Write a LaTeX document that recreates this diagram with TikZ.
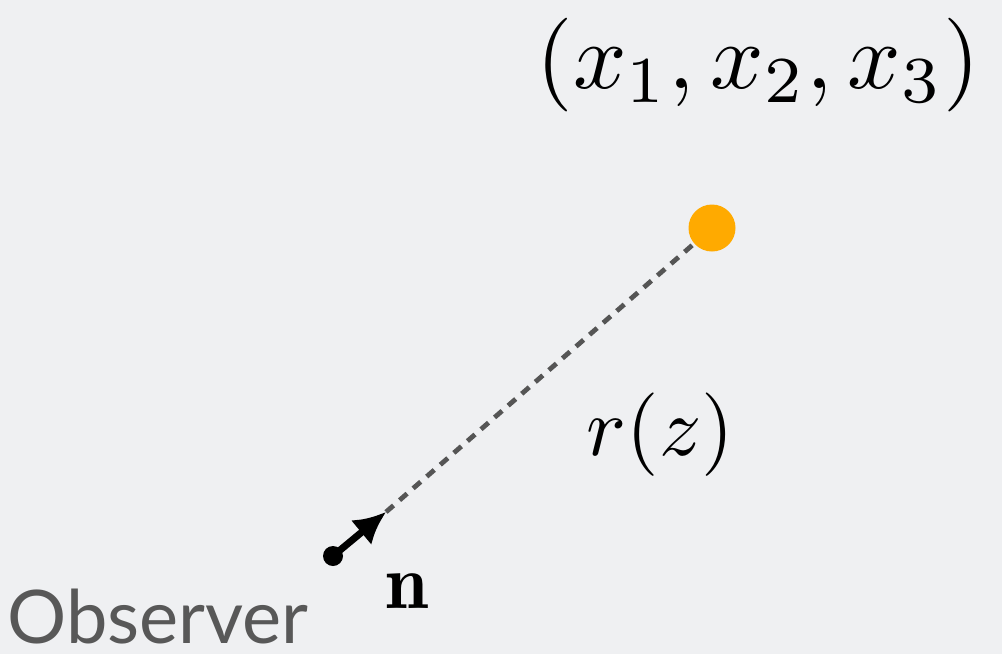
\documentclass[tikz,border=0pt]{standalone}
\usepackage{fontspec}
\usepackage{xcolor}
\usetikzlibrary{arrows.meta}
\newfontfamily\labelfont{Lato}
\definecolor{backgroundColor}{RGB}{239,240,242}
\definecolor{sourceColor}{RGB}{255,170,0}
\definecolor{lineColor}{RGB}{85,85,85}
\definecolor{observerTextColor}{RGB}{88,88,88}

\begin{document}
\begin{tikzpicture}[
        x=0.5pt, y=-0.5pt,
        mathlabel/.style={
                anchor=base west,
                inner sep=0pt,
                scale=4.3
            },
        sightline/.style={lineColor, line width=2.4pt, dash pattern=on 5pt off 4pt},
        normal/.style={-{Latex[length=16pt,width=16pt]}, line width=3.5pt, black}
    ]

    % ---- Background ----
    \fill[backgroundColor] (0,0) rectangle (1002,654);
    \useasboundingbox (0,0) rectangle (1002,654);

    % ---- Sizes (diameters in pt) ----
    \def\dSource{23.5pt}
    \def\dObserver{10pt}

    % ---- Source and observer ----
    \node[circle, fill=sourceColor, minimum size=\dSource, inner sep=0pt] (source) at (712,228) {};
    \node[circle, fill=black, minimum size=\dObserver, inner sep=0pt] (observer) at (333,556) {};
    \coordinate (ntip) at (386,512);

    % ---- Line of sight ----
    \draw[sightline] (ntip) -- (source);

    % ---- Direction n ----
    \draw[normal] (observer.center) -- (ntip);

    % ---- Labels ----
    \node[mathlabel, scale=1.09] (position) at (535,88) {$(x_1, x_2, x_3)$};
    \node[mathlabel, scale=0.97] (distance) at (585,455) {$r(z)$};
    \node[mathlabel, scale=0.9] (direction) at (384,608) {$\mathbf{n}$};
    \node[anchor=base west, inner sep=0pt, font=\labelfont\fontsize{37}{40}\selectfont,
        text=observerTextColor] (observerlabel) at (7,643) {Observer};
\end{tikzpicture}
\end{document}
